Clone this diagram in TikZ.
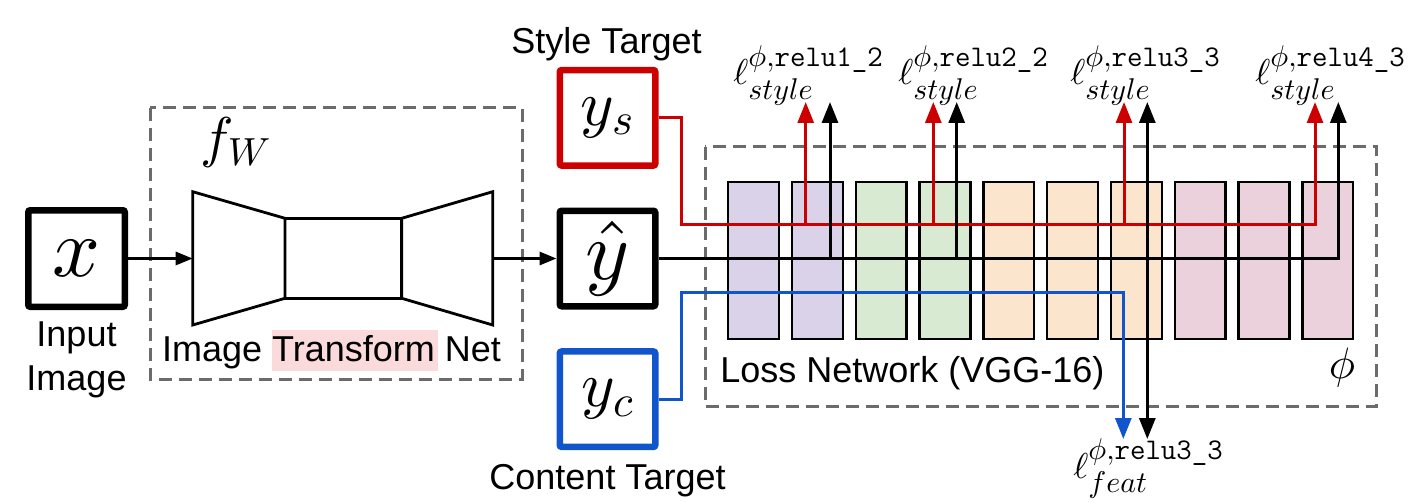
\documentclass[tikz,border=0pt]{standalone}
\usepackage{amsmath}
\usepackage[no-math]{fontspec}
\setmainfont{Liberation Sans}
\DeclareFontShape{OML}{cmm}{m}{it}{<->cmmi10}{}
\DeclareFontShape{OMS}{cmsy}{m}{n}{<->cmsy10}{}
\DeclareFontShape{OT1}{cmr}{m}{n}{<->cmr10}{}
\DeclareFontShape{OMX}{cmex}{m}{n}{<->cmex10}{}
\DeclareMathSizes{18}{18}{15}{12}
\usetikzlibrary{arrows.meta}
\definecolor{sred}{HTML}{CC0000}
\definecolor{sblue}{HTML}{1155CC}
\definecolor{dgray}{HTML}{6B6B6B}
\definecolor{lpurple}{HTML}{D9D2E9}
\definecolor{lgreen}{HTML}{D9EAD3}
\definecolor{lorange}{HTML}{FCE5CD}
\definecolor{lpink}{HTML}{EAD1DC}
\definecolor{hl}{HTML}{FADADA}
\tikzset{
  tbox/.style={draw, line width=3.25pt, minimum width=47.75pt, minimum height=47.75pt,
    inner sep=0pt, rounded corners=1pt, fill=white},
  dbox/.style={draw=dgray, line width=1.5pt, dash pattern=on 6.5pt off 3.5pt},
  layer/.style={draw, line width=1.2pt, minimum width=25.4pt, minimum height=78.5pt, inner sep=0pt},
  netline/.style={line width=1.4pt, line join=miter},
  wire/.style={line width=1.5pt},
  bigtip/.style={-{Triangle[length=10.5pt,width=8pt]}},
  smalltip/.style={-{Triangle[length=8.5pt,width=6.5pt]}},
  lbl/.style={font=\fontsize{18}{21}\selectfont, inner sep=0pt},
  lossl/.style={font=\fontsize{18}{21}\selectfont, inner sep=0pt, anchor=base west},
}
\begin{document}
\begin{tikzpicture}[x=0.5pt,y=-0.5pt]
\useasboundingbox (0,0) rectangle (1416,502);
% dashed groups
\draw[dbox] (150,108) rectangle (522,379);
\draw[dbox] (705,147) rectangle (1376.5,406);
% VGG layers
\foreach \i/\c in {0/lpurple,1/lpurple,2/lgreen,3/lgreen,4/lorange,5/lorange,6/lorange,7/lpink,8/lpink,9/lpink}
  \node[layer, fill=\c] (L\i) at ({753.5+63.8*\i},260.4) {};
% transform net
\fill[hl] (272.3,330) rectangle (437.7,371);
\draw[netline] (192.7,191.7) -- (285,218.3) -- (285,298.3) -- (192.7,325) -- cycle;
\draw[netline] (285,218.3) rectangle (401.7,298.3);
\draw[netline] (401.7,218.3) -- (492.7,191.7) -- (492.7,325) -- (401.7,298.3) -- cycle;
\coordinate (encin) at (192.7,258.5);
\coordinate (decout) at (492.7,258.5);
% boxes
\node[tbox, minimum width=48.25pt, minimum height=48.25pt, font=\fontsize{42}{48}\selectfont] (x) at (76.5,258.5) {$x$};
\node[tbox, draw=sred, font=\fontsize{32}{36}\selectfont] (ys) at (607.5,117.8) {$y_s$};
\node[tbox, font=\fontsize{42}{48}\selectfont] (yh) at (607.5,258.5) {$\hat{y}$};
\node[tbox, draw=sblue, font=\fontsize{32}{36}\selectfont] (yc) at (607.5,399.2) {$y_c$};
% coordinates
\coordinate (rc) at (681.7,224.5);
\coordinate (r1) at (805.7,224.5);
\coordinate (r2) at (933.3,224.5);
\coordinate (r3) at (1124,224.5);
\coordinate (r4) at (1315,224.5);
\coordinate (rt1) at (805.7,102);
\coordinate (rt2) at (933.3,102);
\coordinate (rt3) at (1124,102);
\coordinate (rt4) at (1315,102);
\coordinate (b1) at (830,258.5);
\coordinate (b2) at (956.7,258.5);
\coordinate (b3) at (1147.3,258.5);
\coordinate (b4) at (1338.3,258.5);
\coordinate (bt1) at (830,102);
\coordinate (bt2) at (956.7,102);
\coordinate (bt3) at (1147.3,102);
\coordinate (bt4) at (1338.3,102);
\coordinate (bd) at (1147.3,439);
\coordinate (bc) at (681.7,292.7);
\coordinate (f1) at (1123.3,292.7);
\coordinate (ft) at (1123.3,439);
% wires
\draw[wire, smalltip] (x.east) -- (encin);
\draw[wire, smalltip] (decout) -- (yh.west);
\draw[wire, sred, bigtip] (ys.east) -| (rc) -- (r4) -- (rt4);
\foreach \k in {1,2,3} \draw[wire, sred, bigtip] (r\k) -- (rt\k);
\draw[wire, bigtip] (yh.east) -- (b4) -- (bt4);
\foreach \k in {1,2,3} \draw[wire, bigtip] (b\k) -- (bt\k);
\draw[wire, bigtip] (b3) -- (bd);
\draw[wire, sblue, bigtip] (yc.east) -| (bc) -- (f1) -- (ft);
% texts
\node[lbl, anchor=base] (tStyle) at (606.5,53.3) {Style Target};
\node[lbl, anchor=base] (tContent) at (607.5,489.5) {Content Target};
\node[lbl, anchor=base] (tInput) at (76.5,346.7) {Input};
\node[lbl, anchor=base] (tImage) at (76.5,390) {Image};
\node[lbl, anchor=base west] (tITN) at (161.7,361.7) {Image Transform Net};
\node[lbl, anchor=base west] (tLoss) at (720,382) {Loss Network (VGG-16)};
\node[font=\fontsize{28}{32}\selectfont, inner sep=0pt] (fW) at (236,143) {$f_W$};
\node[font=\fontsize{22}{26}\selectfont, inner sep=0pt] (phi) at (1342,367) {$\phi$};
% loss labels
\node[lossl] (ls1) at (733,85) {$\ell^{\phi,\texttt{relu1\_2}}_{style}$};
\node[lossl] (ls2) at (898,85) {$\ell^{\phi,\texttt{relu2\_2}}_{style}$};
\node[lossl] (ls3) at (1070,85) {$\ell^{\phi,\texttt{relu3\_3}}_{style}$};
\node[lossl] (ls4) at (1255,85) {$\ell^{\phi,\texttt{relu4\_3}}_{style}$};
\node[lossl] (lf) at (1073,478) {$\ell^{\phi,\texttt{relu3\_3}}_{feat}$};
\end{tikzpicture}
\end{document}
